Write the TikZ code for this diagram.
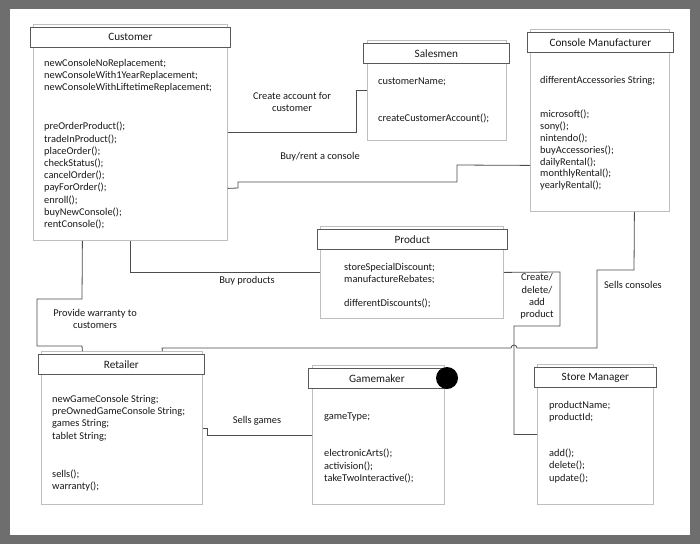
\documentclass[tikz,border=0pt]{standalone}
\usepackage{fontspec}
\setmainfont{Carlito}

\begin{document}
\begin{tikzpicture}[x=1pt,y=-1pt,
  clshead/.style={draw=black!65, fill=white, line width=0.8pt, minimum height=20pt, inner sep=0pt, anchor=north west, text=black!90, font=\fontsize{11.2}{13}\selectfont},
  clsbody/.style={draw=black!25, fill=white, line width=0.8pt, inner sep=0pt, anchor=north west},
  clstext/.style={anchor=north west, align=left, inner sep=0pt, text=black!90, font=\fontsize{10.4}{12.2}\selectfont},
  lbl/.style={align=center, inner sep=0pt, text=black!90, font=\fontsize{10.4}{12.2}\selectfont},
  link/.style={draw=black!70, line width=0.8pt}]
  \useasboundingbox (0,0) rectangle (700,544);
  % grey frame round the sheet
  \fill[black!57] (0,0) rectangle (700,544);
  \fill[white] (10,9) rectangle (690,535);

  % Customer
  \node[clsbody, minimum width=194pt, minimum height=216pt] (custb) at (33,24) {};
  \node[clshead, minimum width=200pt] (cust) at (30,27) {Customer};
  \node[clstext] (custt) at (44,59) {newConsoleNoReplacement;\\newConsoleWith1YearReplacement;\\newConsoleWithLiftetimeReplacement;\\[26.8pt]preOrderProduct();\\tradeInProduct();\\placeOrder();\\checkStatus();\\cancelOrder();\\payForOrder();\\enroll();\\buyNewConsole();\\rentConsole();};

  % Salesmen
  \node[clsbody, minimum width=139pt, minimum height=100pt] (salb) at (367,40) {};
  \node[clshead, minimum width=146pt] (sal) at (363,43) {Salesmen};
  \node[clstext] (salt) at (378,78) {customerName;\\[24.8pt]createCustomerAccount();};

  % Console Manufacturer
  \node[clsbody, minimum width=139pt, minimum height=182pt] (cmb) at (530,29) {};
  \node[clshead, minimum width=146pt] (cm) at (527,32) {Console Manufacturer};
  \node[clstext, font=\fontsize{10.4}{11.8}\selectfont] (cmt) at (540,76.5) {differentAccessories String;\\[22.2pt]microsoft();\\sony();\\nintendo();\\buyAccessories();\\dailyRental();\\monthlyRental();\\yearlyRental();};

  % Product
  \node[clsbody, minimum width=183pt, minimum height=92pt] (prodb) at (320,226) {};
  \node[clshead, minimum width=190pt] (prod) at (317,229) {Product};
  \node[clstext] (prodt) at (344,263) {storeSpecialDiscount;\\manufactureRebates;\\[11.8pt]differentDiscounts();};

  % Retailer
  \node[clsbody, minimum width=161pt, minimum height=153pt] (retb) at (41,351) {};
  \node[clshead, minimum width=166pt] (ret) at (38,354) {Retailer};
  \node[clstext] (rett) at (52,395) {newGameConsole String;\\preOwnedGameConsole String;\\games String;\\tablet String;\\[25.8pt]sells();\\warranty();};

  % Gamemaker
  \node[clsbody, minimum width=132pt, minimum height=139pt] (gmb) at (312,365) {};
  \node[clshead, minimum width=137pt] (gm) at (308,368) {Gamemaker};
  \node[clstext] (gmt) at (324,413) {gameType;\\[24.8pt]electronicArts();\\activision();\\takeTwoInteractive();};
  \node[circle, fill=black, minimum size=22pt, inner sep=0pt] (gmdot) at (447,378) {};

  % Store Manager
  \node[clsbody, minimum width=116pt, minimum height=140pt] (smb) at (537,364) {};
  \node[clshead, minimum width=122pt] (sm) at (534,367) {Store Manager};
  \node[clstext] (smt) at (549,401) {productName;\\productId;\\[23.8pt]add();\\delete();\\update();};

  % connectors
  \draw[link] (custb.east) -- ++(129,0) |- (salb.west);
  \draw[link] ([yshift=-56pt]custb.east) -- (238,188) -- (238,182) -- (457,182) -- (457,165) -- ([yshift=-45pt]cmb.west);
  \draw[link] (custb.south) |- (prodb.west);
  \draw[link] ([xshift=-48pt]custb.south) -- (82,299) -- (37,299) -- (37,346) -- (82,346) -- ([xshift=-39.5pt]retb.north);
  % hop where it crosses the store manager line
  \draw[link] ([xshift=34.5pt]cmb.south) -- (634,270) -- (597,270) -- (597,348) -- (517,348) arc[start angle=0, end angle=-180, radius=3] -- (162,348) -- ([xshift=40.5pt]retb.north);
  \draw[link] (prodb.east) -- (560,272) -- (560,326) -- (514,326) |- (smb.west);
  \draw[link] (retb.east) -- ++(5,0) |- (gmb.west);

  % connector labels
  \node[lbl] (lacct) at (292,102) {Create account for\\customer};
  \node[lbl] (lbuy) at (320,157) {Buy/rent a console};
  \node[lbl] (lprod) at (247,281) {Buy products};
  \node[lbl] (lwarr) at (95,319) {Provide warranty to\\customers};
  \node[lbl] (lsell) at (633,285) {Sells consoles};
  \node[lbl] (lcrud) at (537,296.5) {Create/\\delete/\\add\\product};
  \node[lbl] (lgames) at (257,421) {Sells games};
\end{tikzpicture}
\end{document}
